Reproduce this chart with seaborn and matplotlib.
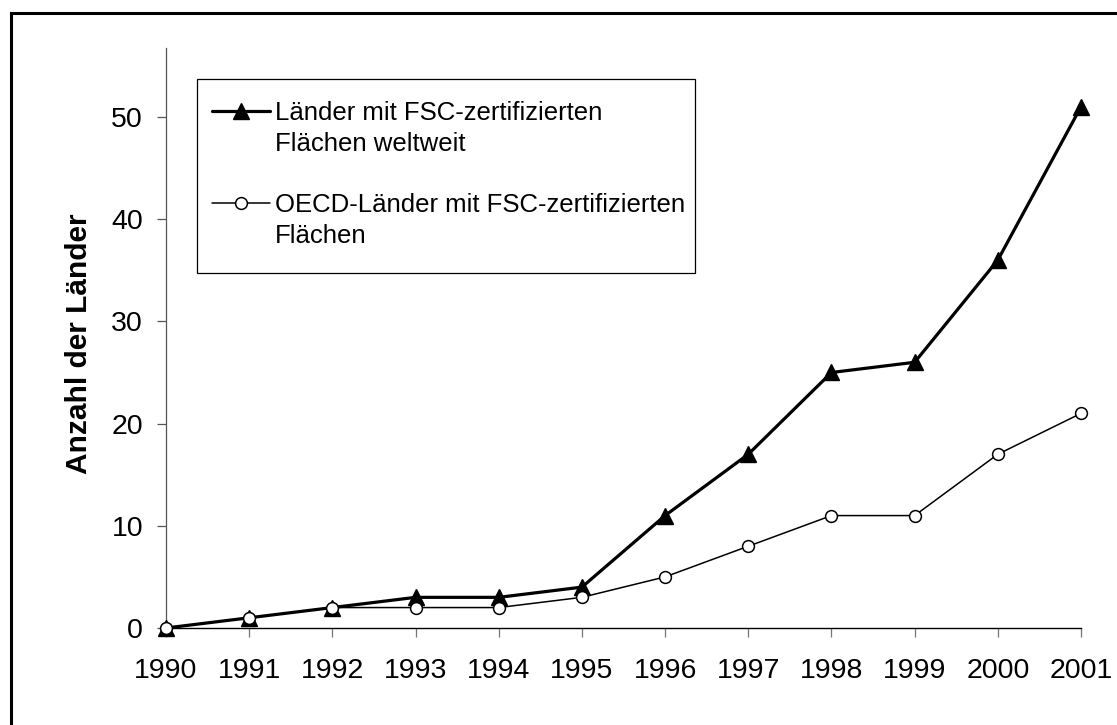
import matplotlib
matplotlib.use("Agg")
import matplotlib.pyplot as plt
from matplotlib.patches import Rectangle
from matplotlib.lines import Line2D
import seaborn as sns
import pandas as pd

years = [1990, 1991, 1992, 1993, 1994, 1995, 1996, 1997, 1998, 1999, 2000, 2001]
world = [0, 1, 2, 3, 3, 4, 11, 17, 25, 26, 36, 51]
oecd = [0, 1, 2, 2, 2, 3, 5, 8, 11, 11, 17, 21]
label_world = ["Länder mit FSC-zertifizierten", "Flächen weltweit"]
label_oecd = ["OECD-Länder mit FSC-zertifizierten", "Flächen"]
ylabel = "Anzahl der Länder"
yticks = [0, 10, 20, 30, 40, 50]

df = pd.DataFrame({"Jahr": years, "Welt": world, "OECD": oecd})

sns.set_style("white")
plt.rcParams["font.family"] = ["Liberation Sans", "DejaVu Sans"]
plt.rcParams["text.color"] = "black"
plt.rcParams["xtick.color"] = "black"
plt.rcParams["ytick.color"] = "black"
plt.rcParams["axes.labelcolor"] = "black"

W, H = 1117, 725
fig = plt.figure(figsize=(W / 100, H / 100), dpi=100)
ax = fig.add_axes([166 / W, 1 - 628 / H, (1081 - 166) / W, (628 - 48) / H])

sns.lineplot(data=df, x="Jahr", y="Welt", ax=ax, color="black", lw=2.3,
             marker="^", ms=12, mfc="black", mec="black", mew=1,
             clip_on=False, zorder=4)
sns.lineplot(data=df, x="Jahr", y="OECD", ax=ax, color="black", lw=1.1,
             marker="o", ms=8.5, mfc="white", mec="black", mew=1.1,
             clip_on=False, zorder=5)

ax.set_xlim(1990, 2001)
ax.set_ylim(0, 56.75)
ax.set_xticks(years)
ax.set_xticklabels([str(y) for y in years])
ax.set_yticks(yticks)

for s in ["top", "right"]:
    ax.spines[s].set_visible(False)
ax.spines["left"].set_color("#555555")
ax.spines["left"].set_linewidth(0.9)
ax.spines["bottom"].set_color("black")
ax.spines["bottom"].set_linewidth(1.0)

ax.tick_params(axis="y", direction="out", length=6.5, width=0.9, color="#555555",
               labelsize=20.5, pad=10, left=True, labelcolor="black")
ax.tick_params(axis="x", direction="out", length=6.5, width=0.9, color="#777777",
               labelsize=20.5, pad=15, bottom=True, labelcolor="black")

ax.set_xlabel("")
ax.set_ylabel(ylabel, fontsize=21.5, fontweight="bold", color="black")
ax.yaxis.set_label_coords((93 - 166) / (1081 - 166), (628 - 344) / (628 - 48))

h_world = Line2D([], [], color="black", lw=2.3, marker="^", ms=12, mfc="black", mec="black")
h_oecd = Line2D([], [], color="black", lw=1.1, marker="o", ms=8.5, mfc="white",
                mec="black", mew=1.1)
h_blank = Line2D([], [], color="none", lw=0)
handles = [h_world, h_blank, h_blank, h_oecd, h_blank]
labels = [label_world[0], label_world[1], " ", label_oecd[0], label_oecd[1]]

leg = ax.legend(handles, labels, loc="upper left", bbox_to_anchor=(212 / W, 1 - 101 / H),
                bbox_transform=fig.transFigure, frameon=False, fontsize=18.5,
                handlelength=2.25, handletextpad=0.2, labelspacing=0.26,
                borderaxespad=0, borderpad=0)
for t in leg.get_texts():
    t.set_color("black")

fig.patches.append(Rectangle((197 / W, 1 - 273 / H), (695 - 197) / W, (273 - 79) / H,
                             transform=fig.transFigure, fill=False,
                             edgecolor="black", lw=0.9))
fig.patches.append(Rectangle((11 / W, -0.05), 1.1, 0.05 + (1 - 13 / H),
                             transform=fig.transFigure, fill=False,
                             edgecolor="black", lw=2.2))

fig.savefig("out.png", dpi=100)
